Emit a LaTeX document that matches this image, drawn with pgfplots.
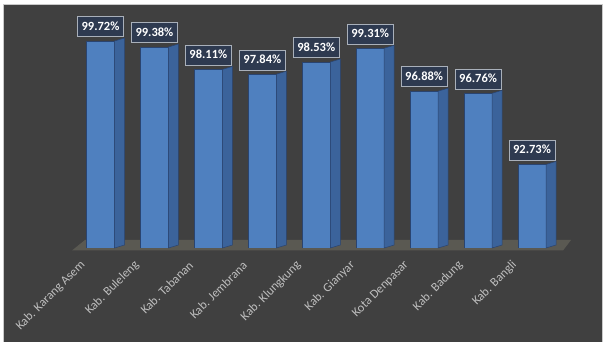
\documentclass[border=0pt]{standalone}
\usepackage{pgfplots}
\pgfplotsset{compat=1.18}
\usetikzlibrary{backgrounds,calc}
\usepackage{fontspec}
\setmainfont{Carlito}

\definecolor{panel}{HTML}{404040}
\definecolor{panelrule}{HTML}{C9C9C9}
\definecolor{floorcol}{HTML}{5A5952}
\definecolor{barfront}{HTML}{4F80BF}
\definecolor{barside}{HTML}{3B639B}
\definecolor{baredge}{HTML}{2A4470}
\definecolor{tagfill}{HTML}{2E3A50}
\definecolor{tagrule}{HTML}{A9B0BA}
\definecolor{catlabel}{HTML}{BEBEBE}

% side face of a bar: a parallelogram to the right of the front face,
% reaching down to the floor (value 88)
\pgfdeclareplotmark{barside}{%
  \pgfmathsetmacro\hgt{(\rawy-88)*17.66}%
  \pgfpathmoveto{\pgfqpoint{14pt}{0pt}}%
  \pgfpathlineto{\pgfqpoint{24pt}{3pt}}%
  \pgfpathlineto{\pgfpoint{24pt}{3pt-\hgt pt}}%
  \pgfpathlineto{\pgfpoint{14pt}{-\hgt pt}}%
  \pgfpathclose
  \pgfusepathqfillstroke
}

\pgfplotstableread{
  x  y
  0  99.72
  1  99.38
  2  98.11
  3  97.84
  4  98.53
  5  99.31
  6  96.88
  7  96.76
  8  92.73
}\coverage

\begin{document}
\begin{tikzpicture}[x=1pt,y=1pt]
  \begin{axis}[
    scale only axis,
    width=512.43pt, height=240pt,
    xmin=-0.7, xmax=8.8,
    ymin=88, ymax=101.59,
    hide y axis,
    axis x line*=bottom,
    x axis line style={draw=none},
    major tick length=0pt,
    xtick=data,
    xticklabels={Kab. Karang Asem, Kab. Buleleng, Kab. Tabanan, Kab. Jembrana,
      Kab. Klungkung, Kab. Gianyar, Kota Denpasar, Kab. Badung, Kab. Bangli},
    xticklabel style={font=\fontsize{12.5}{14}\selectfont, text=catlabel,
      inner sep=0pt, anchor=east, xshift=-17.3pt, yshift=-15.2pt, rotate=45},
    /pgf/number format/assume math mode=true,
    ybar, bar width=28pt,
  ]
    \coordinate (base) at (axis cs:0,88);
    \addplot[
      fill=barfront, draw=baredge, line width=0.5pt,
      nodes near coords={\pgfmathprintnumber[fixed,fixed zerofill,precision=2]{\pgfplotspointmeta}\%},
      every node near coord/.append style={
        font=\bfseries\fontsize{12.5}{14}\selectfont, text=white,
        fill=tagfill, draw=tagrule, line width=0.7pt,
        inner xsep=4pt, inner ysep=0pt, text height=9pt, text depth=2pt,
        minimum height=20pt, anchor=south, yshift=4pt},
    ] table {\coverage};
    \addplot[
      only marks, mark=barside,
      visualization depends on={rawy \as \rawy},
      mark options={fill=barside, draw=baredge, line width=0.5pt},
    ] table {\coverage};
  \end{axis}

  \begin{scope}[on background layer, shift={(base)}]
    % page, dark panel and its rule
    \fill[white] (-100.5,-94) rectangle (504.5,248);
    \fill[panel] (-97.5,-94) rectangle (501.5,244);
    \draw[panelrule, line width=0.8pt] (-97.5,-94) -- (-97.5,244) -- (501.5,244) -- (501.5,-94);
    % floor under the bars
    \fill[floorcol] (-28.5,-2.5) -- (-15.5,8) -- (470.5,8) -- (462.5,-2.5) -- cycle;
  \end{scope}
  \pgfresetboundingbox
  \path[use as bounding box] ($(base)+(-100.5,-94)$) rectangle ($(base)+(504.5,248)$);
\end{tikzpicture}
\end{document}
